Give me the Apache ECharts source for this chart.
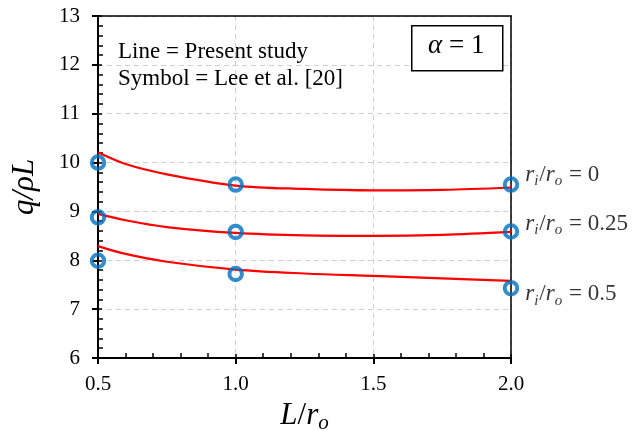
<!DOCTYPE html>
<html>
<head>
<meta charset="utf-8">
<script src="https://cdn.jsdelivr.net/npm/echarts@6/dist/echarts.min.js"></script>
<style>
  html, body { margin: 0; padding: 0; background: #fff; }
  #chart { width: 640px; height: 431px; }
</style>
</head>
<body>
<div id="chart"></div>
<script>
// x positions of the computed curves (L/ro)
var curveX = [0.5, 0.6, 0.75, 1.0, 1.25, 1.5, 1.75, 2.0];
// present study curves
var line0   = [10.21, 9.97, 9.76, 9.53, 9.46, 9.43, 9.44, 9.49];
var line025 = [8.95, 8.82, 8.68, 8.56, 8.51, 8.50, 8.52, 8.58];
var line05  = [8.29, 8.13, 7.97, 7.81, 7.73, 7.68, 7.63, 7.58];
// Lee et al. [20] symbols
var symX = [0.5, 1.0, 2.0];
var sym0   = [10.0, 9.55, 9.55];
var sym025 = [8.88, 8.58, 8.59];
var sym05  = [7.99, 7.72, 7.43];
var ratioLabels = ['0', '0.25', '0.5'];
var labelShift = [-10, -8, 6];

var serif = '"Liberation Serif", "Times New Roman", serif';
var red = '#ff0000';
var blue = '#0070c0';

function pairs(xs, ys) {
  return xs.map(function (x, i) { return [x, ys[i]]; });
}

function lineSeries(ys) {
  return {
    type: 'line',
    data: pairs(curveX, ys),
    smooth: 0.35,
    showSymbol: false,
    symbol: 'none',
    lineStyle: { color: red, width: 2.2 },
    z: 3
  };
}

function symSeries(ys, k) {
  var data = pairs(symX, ys).map(function (p, i) {
    var item = { value: p };
    if (i === symX.length - 1) {
      item.label = {
        show: true,
        position: 'right',
        distance: 6,
        offset: [0, labelShift[k]],
        color: '#000',
        textBorderWidth: 0,
        formatter: '{it|r}{sub|i}{n|/}{it|r}{sub|o}{n| = ' + ratioLabels[k] + '}',
        rich: {
          it: { fontFamily: serif, fontStyle: 'italic', fontSize: 23, color: '#000' },
          sub: { fontFamily: serif, fontStyle: 'italic', fontSize: 15, color: '#000', padding: [13, 1, 0, 0] },
          n: { fontFamily: serif, fontSize: 23, color: '#000' }
        }
      };
    }
    return item;
  });
  return {
    type: 'scatter',
    data: data,
    symbol: 'circle',
    symbolSize: 12.5,
    itemStyle: { color: 'rgba(0,0,0,0)', borderColor: blue, borderWidth: 4 },
    z: 4
  };
}

function frameAxis(pos, min, max) {
  return {
    type: 'value', min: min, max: max, position: pos,
    axisLine: { show: true, onZero: false, lineStyle: { color: '#000', width: 1.5 } },
    axisTick: { show: false }, axisLabel: { show: false }, splitLine: { show: false }
  };
}

var chart = echarts.init(document.getElementById('chart'));
chart.setOption({
  animation: false,
  backgroundColor: '#fff',
  grid: {
    left: 98, right: 129, top: 16, bottom: 73,
    outerBoundsMode: 'none', containLabel: false
  },
  xAxis: [{
    type: 'value', min: 0.5, max: 2.0, interval: 0.5,
    name: '{i|L}{n|/}{i|r}{s|o}',
    nameLocation: 'middle', nameGap: 34,
    nameTextStyle: {
      rich: {
        i: { fontFamily: serif, fontStyle: 'italic', fontSize: 31, color: '#000' },
        n: { fontFamily: serif, fontSize: 31, color: '#000' },
        s: { fontFamily: serif, fontStyle: 'italic', fontSize: 21, color: '#000', padding: [17, 0, 0, 0] }
      }
    },
    axisLine: { onZero: false, lineStyle: { color: '#000', width: 2 } },
    axisTick: { show: true, length: 6, lineStyle: { color: '#000', width: 2 } },
    axisLabel: { fontFamily: serif, fontSize: 21, color: '#000', margin: 16,
      formatter: function (v) { return v.toFixed(1); } },
    splitLine: { show: true, lineStyle: { color: '#cfcfcf', type: [5, 4], width: 1 } }
  }, {
    type: 'value', min: 0.5, max: 2.0, interval: 0.5, position: 'bottom',
    axisLine: { show: false, onZero: false },
    axisTick: { show: true, inside: true, length: 4, lineStyle: { color: '#000', width: 1.5 } },
    minorTick: { show: true, splitNumber: 5, length: 5, lineStyle: { color: '#000', width: 1.5 } },
    axisLabel: { show: false },
    splitLine: { show: false }
  }, frameAxis('top', 0.5, 2.0)],
  yAxis: [{
    type: 'value', min: 6, max: 13, interval: 1,
    name: 'q/ρL',
    nameLocation: 'middle', nameGap: 58, nameRotate: 90,
    nameTextStyle: { fontFamily: serif, fontStyle: 'italic', fontSize: 31, color: '#000' },
    axisLine: { onZero: false, lineStyle: { color: '#000', width: 2 } },
    axisTick: { show: true, length: 6, lineStyle: { color: '#000', width: 2 } },
    axisLabel: { fontFamily: serif, fontSize: 21, color: '#000', margin: 18 },
    splitLine: { show: true, lineStyle: { color: '#cfcfcf', type: [5, 4], width: 1 } }
  }, {
    type: 'value', min: 6, max: 13, interval: 1, position: 'left', offset: 0,
    axisLine: { show: false, onZero: false },
    axisTick: { show: true, inside: true, length: 4, lineStyle: { color: '#000', width: 1.5 } },
    minorTick: { show: true, splitNumber: 5, length: 5, lineStyle: { color: '#000', width: 1.5 } },
    axisLabel: { show: false },
    splitLine: { show: false }
  }, frameAxis('right', 6, 13)],
  graphic: [{
    type: 'text', left: 118, top: 38,
    style: { text: 'Line = Present study\nSymbol = Lee et al. [20]', font: '23px ' + serif,
      fill: '#000', lineHeight: 27 }
  }, {
    type: 'rect', left: 411, top: 25,
    shape: { width: 91, height: 45 },
    style: { fill: '#fff', stroke: '#000', lineWidth: 1.5 }, z: 10
  }, {
    type: 'text', left: 428, top: 32, z: 11,
    style: {
      text: '{a|α}{b| = 1}',
      rich: {
        a: { fontFamily: serif, fontStyle: 'italic', fontSize: 27, fill: '#000' },
        b: { fontFamily: serif, fontSize: 27, fill: '#000' }
      }
    }
  }],
  series: [
    lineSeries(line0), lineSeries(line025), lineSeries(line05),
    symSeries(sym0, 0), symSeries(sym025, 1), symSeries(sym05, 2)
  ]
});
</script>
</body>
</html>
